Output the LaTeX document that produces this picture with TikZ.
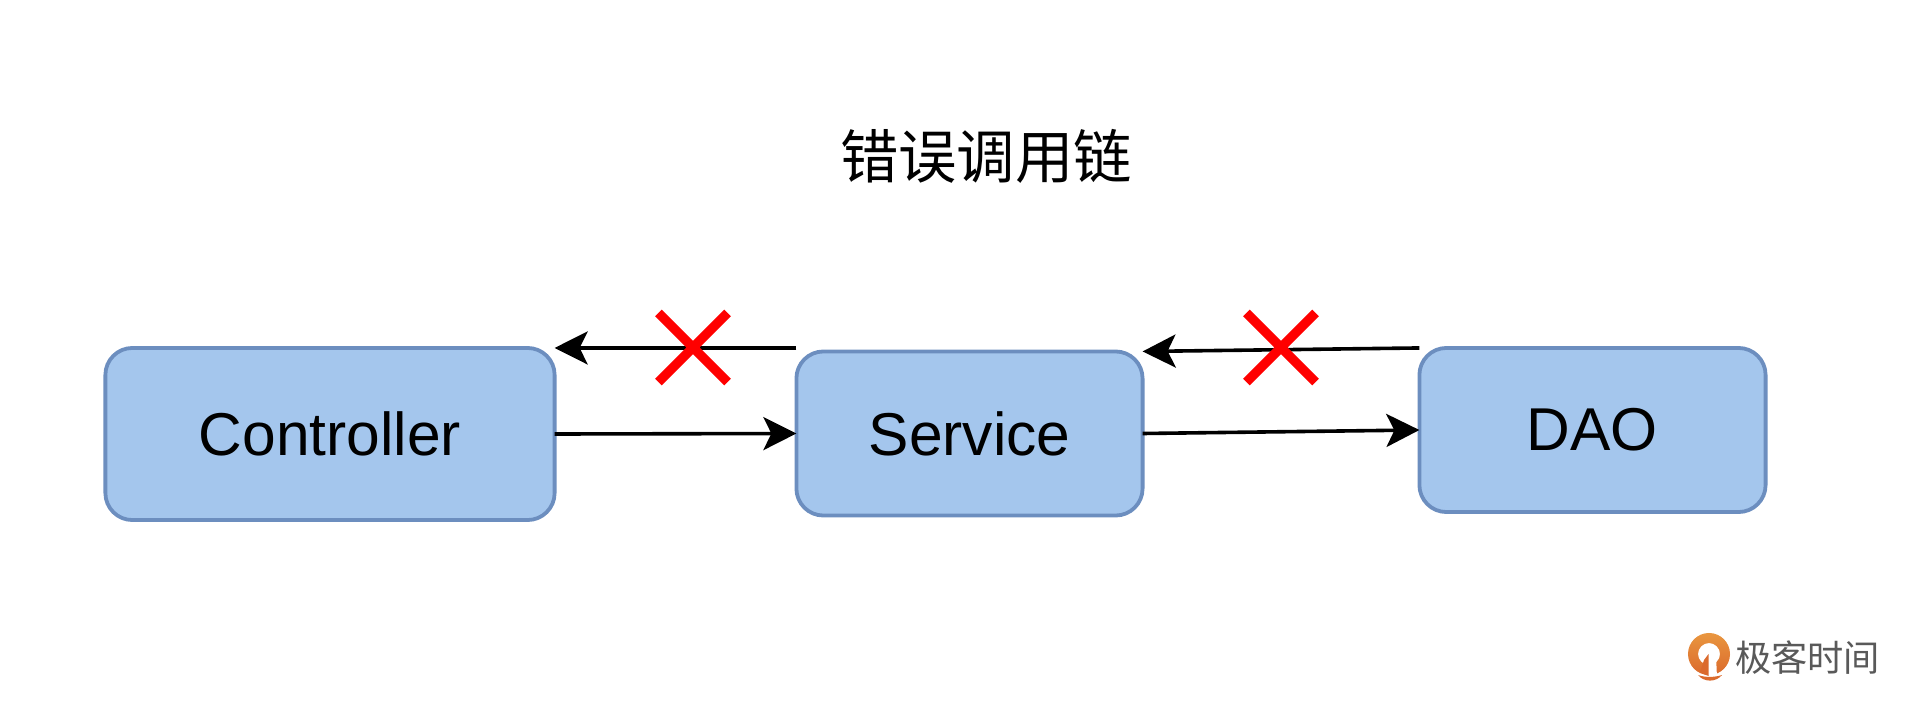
\documentclass[tikz,border=0pt]{standalone}
\usepackage{fontspec}
\setmainfont{Liberation Sans}
\newfontfamily\cjkfont{Noto Sans CJK SC}
\usetikzlibrary{arrows.meta,shapes.misc}
\definecolor{boxfill}{HTML}{A4C6ED}
\definecolor{boxline}{HTML}{6C8EBF}
\definecolor{logotop}{HTML}{E9963F}
\definecolor{logobottom}{HTML}{DB6A2C}
\definecolor{logotext}{HTML}{595959}
\tikzset{
    layerbox/.style={draw=boxline, fill=boxfill, line width=0.038cm, rounded corners=0.27cm, inner sep=0pt, outer sep=0pt, font=\fontsize{17.2}{20}\selectfont},
    callarrow/.style={line width=0.036cm, -{Stealth[length=0.33cm, width=0.33cm, inset=0.08cm]}},
    redcross/.style={cross out, draw=red, line width=0.095cm, minimum size=0.69cm, inner sep=0pt, outer sep=0pt}
}
\begin{document}
\begin{tikzpicture}[x=0.01cm, y=-0.01cm]
    \useasboundingbox (0,0) rectangle (1920,709);

    \node[font=\cjkfont\fontsize{16.6}{20}\selectfont] (title) at (986,156) {错误调用链};

    \node[layerbox, minimum width=4.49cm, minimum height=1.72cm] (controller) at (330,434) {Controller};
    \node[layerbox, minimum width=3.46cm, minimum height=1.64cm] (service) at (969.5,433.5) {Service};
    \node[layerbox, minimum width=3.46cm, minimum height=1.64cm] (dao) at (1592.5,430) {DAO};

    % the return path starts level with the top of Controller
    \coordinate (serviceback) at (service.west |- controller.north);

    \draw[callarrow] (controller.east) -- (service.west);
    \draw[callarrow] (service.east) -- (dao.west);
    \draw[callarrow] (serviceback) -- (controller.north east);
    \draw[callarrow] (dao.north west) -- (service.north east);

    \node[redcross] (crossleft) at (693,347.5) {};
    \node[redcross] (crossright) at (1281,347.5) {};

    % logo
    \shade[top color=logotop, bottom color=logobottom, even odd rule] (1709,654) circle (0.21cm) (1709,654) circle (0.11cm);
    \fill[white] (1707,655) -- (1716,655) -- (1717,678) -- (1708,678) -- cycle;
    \fill[logobottom] (1704,660) -- (1708.5,654) -- (1708.5,676) -- (1700,672.5) -- cycle;
    \fill[logobottom] (1698,675) .. controls (1704,677.5) and (1715,677.5) .. (1722,675) .. controls (1716,682.5) and (1704,682.5) .. (1698,675) -- cycle;
    \node[font=\cjkfont\fontsize{10.3}{12}\selectfont, text=logotext] (logotitle) at (1807.5,658) {极客时间};
\end{tikzpicture}
\end{document}
